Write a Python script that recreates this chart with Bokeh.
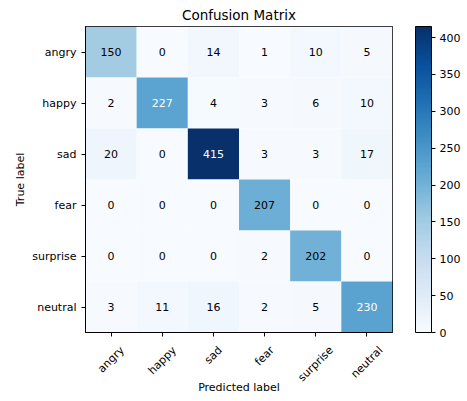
from bokeh.plotting import figure
from bokeh.layouts import column
from bokeh.models import (ColumnDataSource, LinearColorMapper, ColorBar, FixedTicker, FactorRange,
                          Range1d, CustomLabelingPolicy)
from bokeh.palettes import Blues256
from bokeh.embed import file_html
from bokeh.resources import INLINE
from bokeh.core.properties import value
import math

labels = ["angry", "happy", "sad", "fear", "surprise", "neutral"]
matrix = [
    [150, 0, 14, 1, 10, 5],
    [2, 227, 4, 3, 6, 10],
    [20, 0, 415, 3, 3, 17],
    [0, 0, 0, 207, 0, 0],
    [0, 0, 0, 2, 202, 0],
    [3, 11, 16, 2, 5, 230],
]
cbar_ticks = [0, 50, 100, 150, 200, 250, 300, 350, 400]

vmax = max(max(r) for r in matrix)
xs, ys, vals, tcol, txt = [], [], [], [], []
for i, t in enumerate(labels):
    for j, pr in enumerate(labels):
        v = matrix[i][j]
        xs.append(pr); ys.append(t); vals.append(v); txt.append(str(v))
        tcol.append("white" if v > vmax / 2 else "black")
src = ColumnDataSource(dict(x=xs, y=ys, v=vals, c=tcol, t=txt))

pal = list(reversed(Blues256))
mapper = LinearColorMapper(palette=pal, low=0, high=vmax)

FONT = "DejaVu Sans"
FS = 11
AX_H = 7
p = figure(x_range=FactorRange(*labels), y_range=FactorRange(*reversed(labels)),
           frame_width=307, frame_height=306, output_backend="svg", toolbar_location=None,
           title="Confusion Matrix", min_border_left=85, min_border_right=10, min_border_top=0,
           min_border_bottom=AX_H)
p.rect(x="x", y="y", width=1, height=1, source=src,
       fill_color={"field": "v", "transform": mapper}, line_color=None)
p.text(x="x", y="y", text="t", source=src, text_color="c", text_align="center",
       text_baseline="middle", text_font=value(FONT), text_font_size=f"{FS}px")

p.title.align = "center"
p.title.text_font = FONT
p.title.text_font_size = "13.5px"
p.title.text_font_style = "normal"
p.title.text_color = "black"
p.title.standoff = 8
p.outline_line_color = "black"
p.grid.visible = False
for ax in (p.xaxis[0], p.yaxis[0]):
    ax.axis_line_color = "black"
    ax.major_tick_line_color = "black"
    ax.major_tick_out = 4
    ax.major_tick_in = 0
    ax.major_label_text_font = FONT
    ax.major_label_text_font_size = f"{FS}px"
    ax.major_label_text_color = "black"
    ax.axis_label_text_font = FONT
    ax.axis_label_text_font_size = f"{FS}px"
    ax.axis_label_text_font_style = "normal"
    ax.axis_label_text_color = "black"
p.yaxis.axis_label = "True label"
p.yaxis.axis_label_standoff = 2
# bottom axis keeps only its ticks; the rotated labels are drawn in the strip below
p.xaxis.major_label_text_font_size = "0px"
p.xaxis.major_label_standoff = 0
p.xaxis.major_label_policy = CustomLabelingPolicy(code="""
for (const i of indices) { indices.unset(i) }
return indices
""")
p.x_range.range_padding = 0
p.y_range.range_padding = 0

cb = ColorBar(color_mapper=mapper, ticker=FixedTicker(ticks=cbar_ticks), width=16, height=306,
              padding=0, location=(23, 0), bar_line_color="black", major_tick_line_color="black",
              major_tick_in=0, major_tick_out=4, label_standoff=4,
              background_fill_alpha=0, border_line_color=None,
              major_label_text_font=FONT, major_label_text_font_size=f"{FS}px",
              major_label_text_color="black")
p.add_layout(cb, "right")

# strip below: x tick labels rotated 45 deg with their box centred under each tick
H2 = 54
p2 = figure(x_range=p.x_range, y_range=Range1d(-H2, 0), frame_width=307, frame_height=H2,
            output_backend="svg", toolbar_location=None, min_border_left=85,
            min_border_right=10, min_border_top=0, min_border_bottom=0,
            x_axis_location=None, y_axis_location=None)
p2.outline_line_color = None
p2.grid.visible = False

adv = {"a": .613, "n": .634, "g": .635, "r": .411, "y": .592, "h": .634, "p": .635,
       "s": .521, "d": .635, "f": .352, "e": .615, "u": .634, "i": .278, "t": .392, "l": .278}
ys2 = []
for f in labels:
    w = sum(adv.get(ch, .6) for ch in f) * FS
    ys2.append(-(13 - AX_H + (w + 8) / (2 * math.sqrt(2))))
tick_src = ColumnDataSource(dict(x=labels, y=ys2, t=labels))
p2.text(x="x", y="y", text="t", source=tick_src, angle=math.pi / 4, text_align="center",
        text_baseline="middle", text_font=value(FONT), text_font_size=f"{FS}px",
        text_color="black")
p2.text(x=[len(labels) / 2], y=[-48], text=["Predicted label"], text_align="center",
        text_baseline="middle", text_font=value(FONT), text_font_size=f"{FS}px",
        text_color="black")

layout = column(p, p2, spacing=0)
open("out.html", "w").write(file_html(layout, INLINE))
